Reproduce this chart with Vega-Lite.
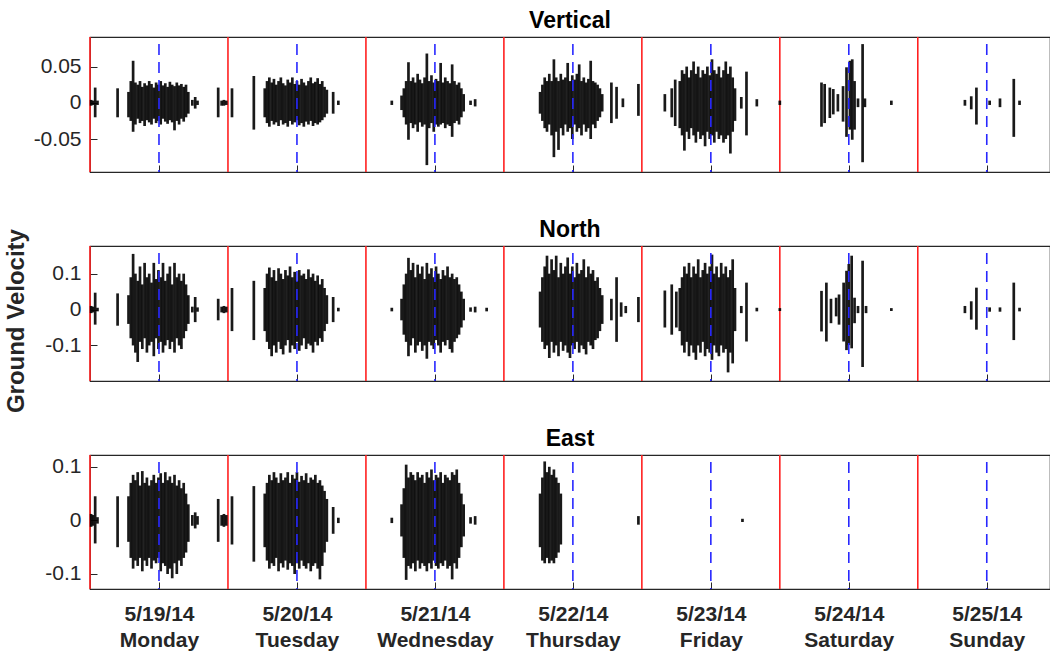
{
"$schema":"https://vega.github.io/schema/vega-lite/v6.json",
"padding":{"left":4,"top":9,"right":0,"bottom":0},
"title":{"text":"Ground Velocity","orient":"left","anchor":"middle","fontSize":24,"fontWeight":"bold","color":"#262626","offset":4,"dx":9},
"config":{"font":"Liberation Sans","view":{"stroke":"#262626","strokeWidth":1.2},
"axis":{"grid":false,"domain":false,"tickColor":"#262626","labelColor":"#262626","labelFontSize":21,"labelFont":"Liberation Sans","titleFont":"Liberation Sans"},
"title":{"fontSize":23,"fontWeight":"bold","color":"#000000","offset":3,"font":"Liberation Sans"},
"concat":{"spacing":44}},
"datasets":{
"days":[{"t":0},{"t":24},{"t":48},{"t":72},{"t":96},{"t":120},{"t":144}],
"noons":[{"t":12},{"t":36},{"t":60},{"t":84},{"t":108},{"t":132},{"t":156}],
"V":[
{"t":0.2,"lo":-0.004,"hi":0.004},{"t":0.5,"lo":-0.003,"hi":0.003},{"t":0.9,"lo":-0.02,"hi":0.021},{"t":1.3,"lo":-0.003,"hi":0.003},{"t":4.8,"lo":-0.02,"hi":0.02},
{"t":6.7,"lo":-0.02,"hi":0.015},{"t":7.1,"lo":-0.025,"hi":0.03},{"t":7.5,"lo":-0.04,"hi":0.058},{"t":7.9,"lo":-0.03,"hi":0.028},{"t":8.3,"lo":-0.022,"hi":0.025},{"t":8.7,"lo":-0.028,"hi":0.03},{"t":9.1,"lo":-0.025,"hi":0.022},{"t":9.5,"lo":-0.032,"hi":0.027},{"t":9.9,"lo":-0.024,"hi":0.024},{"t":10.3,"lo":-0.027,"hi":0.03},{"t":10.7,"lo":-0.03,"hi":0.026},{"t":11.1,"lo":-0.022,"hi":0.021},{"t":11.5,"lo":-0.028,"hi":0.028},{"t":11.9,"lo":-0.025,"hi":0.025},{"t":12.3,"lo":-0.03,"hi":0.03},{"t":12.7,"lo":-0.022,"hi":0.024},{"t":13.1,"lo":-0.026,"hi":0.027},{"t":13.5,"lo":-0.029,"hi":0.022},{"t":13.9,"lo":-0.024,"hi":0.029},{"t":14.3,"lo":-0.027,"hi":0.025},{"t":14.7,"lo":-0.038,"hi":0.023},{"t":15.1,"lo":-0.025,"hi":0.028},{"t":15.5,"lo":-0.03,"hi":0.024},{"t":15.9,"lo":-0.022,"hi":0.026},{"t":16.3,"lo":-0.026,"hi":0.022},{"t":16.7,"lo":-0.02,"hi":0.025},{"t":17.1,"lo":-0.015,"hi":0.015},
{"t":17.8,"lo":-0.004,"hi":0.004},{"t":18.3,"lo":-0.008,"hi":0.008},{"t":18.7,"lo":-0.003,"hi":0.003},{"t":22.3,"lo":-0.02,"hi":0.021},{"t":22.9,"lo":-0.004,"hi":0.003},{"t":23.3,"lo":-0.004,"hi":0.004},{"t":23.7,"lo":-0.003,"hi":0.003},{"t":24.7,"lo":-0.02,"hi":0.02},{"t":28.5,"lo":-0.037,"hi":0.037},
{"t":30.4,"lo":-0.02,"hi":0.02},{"t":30.8,"lo":-0.028,"hi":0.03},{"t":31.2,"lo":-0.033,"hi":0.035},{"t":31.6,"lo":-0.025,"hi":0.028},{"t":32.0,"lo":-0.03,"hi":0.033},{"t":32.4,"lo":-0.027,"hi":0.025},{"t":32.8,"lo":-0.032,"hi":0.03},{"t":33.2,"lo":-0.024,"hi":0.035},{"t":33.6,"lo":-0.03,"hi":0.027},{"t":34.0,"lo":-0.028,"hi":0.024},{"t":34.4,"lo":-0.033,"hi":0.032},{"t":34.8,"lo":-0.025,"hi":0.028},{"t":35.2,"lo":-0.03,"hi":0.035},{"t":35.6,"lo":-0.027,"hi":0.026},{"t":36.0,"lo":-0.024,"hi":0.03},{"t":36.4,"lo":-0.031,"hi":0.025},{"t":36.8,"lo":-0.028,"hi":0.033},{"t":37.2,"lo":-0.033,"hi":0.028},{"t":37.6,"lo":-0.026,"hi":0.024},{"t":38.0,"lo":-0.03,"hi":0.03},{"t":38.4,"lo":-0.025,"hi":0.035},{"t":38.8,"lo":-0.032,"hi":0.027},{"t":39.2,"lo":-0.028,"hi":0.029},{"t":39.6,"lo":-0.03,"hi":0.034},{"t":40.0,"lo":-0.027,"hi":0.026},{"t":40.4,"lo":-0.024,"hi":0.03},{"t":40.8,"lo":-0.02,"hi":0.022},{"t":41.2,"lo":-0.015,"hi":0.018},
{"t":42.3,"lo":-0.015,"hi":0.015},{"t":43.2,"lo":-0.003,"hi":0.003},{"t":52.5,"lo":-0.003,"hi":0.003},
{"t":54.2,"lo":-0.01,"hi":0.01},{"t":54.6,"lo":-0.02,"hi":0.02},{"t":55.0,"lo":-0.03,"hi":0.03},{"t":55.4,"lo":-0.051,"hi":0.056},{"t":55.8,"lo":-0.028,"hi":0.03},{"t":56.2,"lo":-0.035,"hi":0.035},{"t":56.6,"lo":-0.03,"hi":0.028},{"t":57.0,"lo":-0.04,"hi":0.04},{"t":57.4,"lo":-0.027,"hi":0.032},{"t":57.8,"lo":-0.033,"hi":0.027},{"t":58.2,"lo":-0.03,"hi":0.035},{"t":58.6,"lo":-0.086,"hi":0.068},{"t":59.0,"lo":-0.035,"hi":0.03},{"t":59.4,"lo":-0.028,"hi":0.038},{"t":59.8,"lo":-0.04,"hi":0.028},{"t":60.2,"lo":-0.03,"hi":0.033},{"t":60.6,"lo":-0.033,"hi":0.03},{"t":61.0,"lo":-0.03,"hi":0.055},{"t":61.4,"lo":-0.028,"hi":0.028},{"t":61.8,"lo":-0.035,"hi":0.035},{"t":62.2,"lo":-0.03,"hi":0.03},{"t":62.6,"lo":-0.032,"hi":0.027},{"t":63.0,"lo":-0.047,"hi":0.053},{"t":63.4,"lo":-0.028,"hi":0.03},{"t":63.8,"lo":-0.025,"hi":0.025},{"t":64.2,"lo":-0.03,"hi":0.028},{"t":64.6,"lo":-0.02,"hi":0.02},{"t":65.0,"lo":-0.012,"hi":0.012},
{"t":66.2,"lo":-0.003,"hi":0.003},{"t":67.0,"lo":-0.005,"hi":0.005},
{"t":78.3,"lo":-0.015,"hi":0.015},{"t":78.7,"lo":-0.025,"hi":0.025},{"t":79.1,"lo":-0.035,"hi":0.035},{"t":79.5,"lo":-0.04,"hi":0.03},{"t":79.9,"lo":-0.03,"hi":0.04},{"t":80.3,"lo":-0.045,"hi":0.03},{"t":80.7,"lo":-0.075,"hi":0.06},{"t":81.1,"lo":-0.04,"hi":0.035},{"t":81.5,"lo":-0.065,"hi":0.03},{"t":81.9,"lo":-0.035,"hi":0.04},{"t":82.3,"lo":-0.045,"hi":0.032},{"t":82.7,"lo":-0.03,"hi":0.035},{"t":83.1,"lo":-0.04,"hi":0.055},{"t":83.5,"lo":-0.035,"hi":0.03},{"t":83.9,"lo":-0.05,"hi":0.038},{"t":84.3,"lo":-0.03,"hi":0.032},{"t":84.7,"lo":-0.04,"hi":0.04},{"t":85.1,"lo":-0.035,"hi":0.053},{"t":85.5,"lo":-0.045,"hi":0.03},{"t":85.9,"lo":-0.03,"hi":0.035},{"t":86.3,"lo":-0.04,"hi":0.028},{"t":86.7,"lo":-0.035,"hi":0.033},{"t":87.1,"lo":-0.05,"hi":0.058},{"t":87.5,"lo":-0.03,"hi":0.03},{"t":87.9,"lo":-0.035,"hi":0.028},{"t":88.3,"lo":-0.025,"hi":0.025},{"t":88.7,"lo":-0.02,"hi":0.02},{"t":89.1,"lo":-0.012,"hi":0.012},
{"t":90.7,"lo":-0.028,"hi":0.028},{"t":91.6,"lo":-0.022,"hi":0.022},{"t":92.7,"lo":-0.006,"hi":0.006},{"t":95.4,"lo":-0.018,"hi":0.026},
{"t":100.0,"lo":-0.012,"hi":0.012},{"t":101.2,"lo":-0.02,"hi":0.02},{"t":101.8,"lo":-0.032,"hi":0.032},
{"t":102.6,"lo":-0.035,"hi":0.03},{"t":103.0,"lo":-0.045,"hi":0.045},{"t":103.4,"lo":-0.066,"hi":0.04},{"t":103.8,"lo":-0.04,"hi":0.05},{"t":104.2,"lo":-0.05,"hi":0.035},{"t":104.6,"lo":-0.035,"hi":0.045},{"t":105.0,"lo":-0.045,"hi":0.057},{"t":105.4,"lo":-0.055,"hi":0.04},{"t":105.8,"lo":-0.04,"hi":0.05},{"t":106.2,"lo":-0.05,"hi":0.035},{"t":106.6,"lo":-0.045,"hi":0.045},{"t":107.0,"lo":-0.06,"hi":0.04},{"t":107.4,"lo":-0.04,"hi":0.05},{"t":107.8,"lo":-0.05,"hi":0.038},{"t":108.2,"lo":-0.045,"hi":0.06},{"t":108.6,"lo":-0.055,"hi":0.045},{"t":109.0,"lo":-0.04,"hi":0.04},{"t":109.4,"lo":-0.05,"hi":0.05},{"t":109.8,"lo":-0.045,"hi":0.035},{"t":110.2,"lo":-0.055,"hi":0.045},{"t":110.6,"lo":-0.05,"hi":0.057},{"t":111.0,"lo":-0.045,"hi":0.04},{"t":111.4,"lo":-0.07,"hi":0.05},{"t":111.8,"lo":-0.04,"hi":0.035},{"t":112.2,"lo":-0.025,"hi":0.02},
{"t":113.3,"lo":-0.008,"hi":0.008},{"t":114.2,"lo":-0.045,"hi":0.043},{"t":116.0,"lo":-0.005,"hi":0.005},{"t":120.0,"lo":-0.003,"hi":0.003},
{"t":127.25,"lo":-0.033,"hi":0.028},{"t":127.8,"lo":-0.028,"hi":0.026},{"t":128.7,"lo":-0.021,"hi":0.021},{"t":129.3,"lo":-0.016,"hi":0.019},{"t":130.1,"lo":-0.012,"hi":0.012},{"t":131.0,"lo":-0.026,"hi":0.023},{"t":131.6,"lo":-0.047,"hi":0.049},{"t":132.2,"lo":-0.037,"hi":0.058},{"t":132.6,"lo":-0.051,"hi":0.06},{"t":133.0,"lo":-0.037,"hi":0.03},{"t":133.6,"lo":-0.006,"hi":0.006},{"t":134.4,"lo":-0.082,"hi":0.081},{"t":134.8,"lo":-0.006,"hi":0.006},{"t":139.4,"lo":-0.003,"hi":0.003},
{"t":152.2,"lo":-0.004,"hi":0.004},{"t":153.3,"lo":-0.009,"hi":0.009},{"t":154.2,"lo":-0.03,"hi":0.021},{"t":156.5,"lo":-0.003,"hi":0.003},{"t":158.3,"lo":-0.006,"hi":0.006},{"t":160.7,"lo":-0.047,"hi":0.033},{"t":161.7,"lo":-0.003,"hi":0.003}
],
"N":[
{"t":0.2,"lo":-0.01,"hi":0.01},{"t":0.5,"lo":-0.008,"hi":0.008},{"t":0.9,"lo":-0.042,"hi":0.047},{"t":1.3,"lo":-0.005,"hi":0.005},{"t":4.8,"lo":-0.045,"hi":0.045},
{"t":6.7,"lo":-0.04,"hi":0.04},{"t":7.1,"lo":-0.08,"hi":0.09},{"t":7.5,"lo":-0.1,"hi":0.155},{"t":7.9,"lo":-0.12,"hi":0.1},{"t":8.3,"lo":-0.146,"hi":0.08},{"t":8.7,"lo":-0.09,"hi":0.12},{"t":9.1,"lo":-0.11,"hi":0.07},{"t":9.5,"lo":-0.08,"hi":0.13},{"t":9.9,"lo":-0.12,"hi":0.09},{"t":10.3,"lo":-0.1,"hi":0.1},{"t":10.7,"lo":-0.09,"hi":0.075},{"t":11.1,"lo":-0.13,"hi":0.13},{"t":11.5,"lo":-0.08,"hi":0.085},{"t":11.9,"lo":-0.11,"hi":0.11},{"t":12.3,"lo":-0.09,"hi":0.09},{"t":12.7,"lo":-0.12,"hi":0.13},{"t":13.1,"lo":-0.1,"hi":0.08},{"t":13.5,"lo":-0.085,"hi":0.1},{"t":13.9,"lo":-0.11,"hi":0.12},{"t":14.3,"lo":-0.09,"hi":0.07},{"t":14.7,"lo":-0.12,"hi":0.13},{"t":15.1,"lo":-0.08,"hi":0.09},{"t":15.5,"lo":-0.1,"hi":0.1},{"t":15.9,"lo":-0.11,"hi":0.08},{"t":16.3,"lo":-0.08,"hi":0.1},{"t":16.7,"lo":-0.06,"hi":0.07},{"t":17.1,"lo":-0.04,"hi":0.04},
{"t":17.8,"lo":-0.008,"hi":0.008},{"t":18.3,"lo":-0.035,"hi":0.035},{"t":18.7,"lo":-0.006,"hi":0.006},{"t":22.3,"lo":-0.03,"hi":0.03},{"t":22.9,"lo":-0.008,"hi":0.008},{"t":23.3,"lo":-0.01,"hi":0.01},{"t":23.7,"lo":-0.008,"hi":0.008},{"t":24.7,"lo":-0.06,"hi":0.06},{"t":28.5,"lo":-0.085,"hi":0.08},
{"t":30.4,"lo":-0.06,"hi":0.06},{"t":30.8,"lo":-0.09,"hi":0.1},{"t":31.2,"lo":-0.11,"hi":0.117},{"t":31.6,"lo":-0.13,"hi":0.09},{"t":32.0,"lo":-0.1,"hi":0.11},{"t":32.4,"lo":-0.12,"hi":0.08},{"t":32.8,"lo":-0.09,"hi":0.115},{"t":33.2,"lo":-0.11,"hi":0.1},{"t":33.6,"lo":-0.125,"hi":0.085},{"t":34.0,"lo":-0.1,"hi":0.11},{"t":34.4,"lo":-0.085,"hi":0.095},{"t":34.8,"lo":-0.12,"hi":0.12},{"t":35.2,"lo":-0.1,"hi":0.09},{"t":35.6,"lo":-0.11,"hi":0.105},{"t":36.0,"lo":-0.09,"hi":0.08},{"t":36.4,"lo":-0.115,"hi":0.11},{"t":36.8,"lo":-0.1,"hi":0.095},{"t":37.2,"lo":-0.08,"hi":0.1},{"t":37.6,"lo":-0.11,"hi":0.085},{"t":38.0,"lo":-0.095,"hi":0.112},{"t":38.4,"lo":-0.1,"hi":0.09},{"t":38.8,"lo":-0.12,"hi":0.1},{"t":39.2,"lo":-0.09,"hi":0.08},{"t":39.6,"lo":-0.1,"hi":0.095},{"t":40.0,"lo":-0.08,"hi":0.07},{"t":40.4,"lo":-0.09,"hi":0.085},{"t":40.8,"lo":-0.06,"hi":0.06},{"t":41.2,"lo":-0.04,"hi":0.04},
{"t":42.3,"lo":-0.035,"hi":0.035},{"t":43.2,"lo":-0.005,"hi":0.005},{"t":52.5,"lo":-0.005,"hi":0.005},
{"t":54.2,"lo":-0.03,"hi":0.03},{"t":54.6,"lo":-0.07,"hi":0.07},{"t":55.0,"lo":-0.09,"hi":0.1},{"t":55.4,"lo":-0.13,"hi":0.144},{"t":55.8,"lo":-0.1,"hi":0.11},{"t":56.2,"lo":-0.08,"hi":0.13},{"t":56.6,"lo":-0.12,"hi":0.09},{"t":57.0,"lo":-0.1,"hi":0.125},{"t":57.4,"lo":-0.09,"hi":0.1},{"t":57.8,"lo":-0.115,"hi":0.12},{"t":58.2,"lo":-0.1,"hi":0.085},{"t":58.6,"lo":-0.137,"hi":0.13},{"t":59.0,"lo":-0.09,"hi":0.1},{"t":59.4,"lo":-0.1,"hi":0.115},{"t":59.8,"lo":-0.11,"hi":0.09},{"t":60.2,"lo":-0.085,"hi":0.12},{"t":60.6,"lo":-0.1,"hi":0.1},{"t":61.0,"lo":-0.12,"hi":0.085},{"t":61.4,"lo":-0.09,"hi":0.11},{"t":61.8,"lo":-0.1,"hi":0.095},{"t":62.2,"lo":-0.085,"hi":0.12},{"t":62.6,"lo":-0.11,"hi":0.09},{"t":63.0,"lo":-0.12,"hi":0.1},{"t":63.4,"lo":-0.09,"hi":0.085},{"t":63.8,"lo":-0.08,"hi":0.09},{"t":64.2,"lo":-0.07,"hi":0.07},{"t":64.6,"lo":-0.05,"hi":0.05},{"t":65.0,"lo":-0.03,"hi":0.03},
{"t":66.2,"lo":-0.006,"hi":0.006},{"t":67.0,"lo":-0.008,"hi":0.008},{"t":69.0,"lo":-0.005,"hi":0.005},
{"t":78.3,"lo":-0.05,"hi":0.05},{"t":78.7,"lo":-0.09,"hi":0.09},{"t":79.1,"lo":-0.11,"hi":0.12},{"t":79.5,"lo":-0.1,"hi":0.15},{"t":79.9,"lo":-0.135,"hi":0.1},{"t":80.3,"lo":-0.09,"hi":0.14},{"t":80.7,"lo":-0.12,"hi":0.11},{"t":81.1,"lo":-0.1,"hi":0.15},{"t":81.5,"lo":-0.13,"hi":0.09},{"t":81.9,"lo":-0.09,"hi":0.13},{"t":82.3,"lo":-0.115,"hi":0.1},{"t":82.7,"lo":-0.1,"hi":0.12},{"t":83.1,"lo":-0.12,"hi":0.145},{"t":83.5,"lo":-0.135,"hi":0.1},{"t":83.9,"lo":-0.1,"hi":0.12},{"t":84.3,"lo":-0.11,"hi":0.09},{"t":84.7,"lo":-0.09,"hi":0.13},{"t":85.1,"lo":-0.12,"hi":0.1},{"t":85.5,"lo":-0.1,"hi":0.11},{"t":85.9,"lo":-0.11,"hi":0.14},{"t":86.3,"lo":-0.125,"hi":0.09},{"t":86.7,"lo":-0.09,"hi":0.12},{"t":87.1,"lo":-0.1,"hi":0.1},{"t":87.5,"lo":-0.11,"hi":0.11},{"t":87.9,"lo":-0.085,"hi":0.08},{"t":88.3,"lo":-0.08,"hi":0.09},{"t":88.7,"lo":-0.06,"hi":0.06},{"t":89.1,"lo":-0.04,"hi":0.04},
{"t":90.7,"lo":-0.03,"hi":0.03},{"t":91.6,"lo":-0.09,"hi":0.09},{"t":92.4,"lo":-0.02,"hi":0.02},{"t":93.2,"lo":-0.01,"hi":0.01},{"t":95.4,"lo":-0.035,"hi":0.035},
{"t":100.0,"lo":-0.05,"hi":0.053},{"t":101.2,"lo":-0.07,"hi":0.07},{"t":102.0,"lo":-0.05,"hi":0.05},
{"t":102.6,"lo":-0.06,"hi":0.06},{"t":103.0,"lo":-0.1,"hi":0.09},{"t":103.4,"lo":-0.12,"hi":0.12},{"t":103.8,"lo":-0.09,"hi":0.1},{"t":104.2,"lo":-0.13,"hi":0.13},{"t":104.6,"lo":-0.1,"hi":0.09},{"t":105.0,"lo":-0.12,"hi":0.12},{"t":105.4,"lo":-0.14,"hi":0.1},{"t":105.8,"lo":-0.1,"hi":0.14},{"t":106.2,"lo":-0.12,"hi":0.09},{"t":106.6,"lo":-0.09,"hi":0.11},{"t":107.0,"lo":-0.13,"hi":0.13},{"t":107.4,"lo":-0.11,"hi":0.1},{"t":107.8,"lo":-0.12,"hi":0.12},{"t":108.2,"lo":-0.14,"hi":0.153},{"t":108.6,"lo":-0.1,"hi":0.1},{"t":109.0,"lo":-0.12,"hi":0.12},{"t":109.4,"lo":-0.13,"hi":0.09},{"t":109.8,"lo":-0.1,"hi":0.13},{"t":110.2,"lo":-0.12,"hi":0.1},{"t":110.6,"lo":-0.11,"hi":0.12},{"t":111.0,"lo":-0.175,"hi":0.09},{"t":111.4,"lo":-0.12,"hi":0.11},{"t":111.8,"lo":-0.15,"hi":0.14},{"t":112.2,"lo":-0.06,"hi":0.06},
{"t":113.3,"lo":-0.01,"hi":0.01},{"t":114.2,"lo":-0.089,"hi":0.075},{"t":116.0,"lo":-0.005,"hi":0.005},{"t":120.0,"lo":-0.004,"hi":0.004},
{"t":127.25,"lo":-0.061,"hi":0.052},{"t":128.1,"lo":-0.089,"hi":0.075},{"t":128.9,"lo":-0.038,"hi":0.03},{"t":129.8,"lo":-0.019,"hi":0.033},{"t":130.3,"lo":-0.042,"hi":0.042},{"t":131.1,"lo":-0.089,"hi":0.075},{"t":131.6,"lo":-0.113,"hi":0.108},{"t":132.0,"lo":-0.099,"hi":0.127},{"t":132.5,"lo":-0.108,"hi":0.15},{"t":133.0,"lo":-0.038,"hi":0.033},{"t":133.6,"lo":-0.01,"hi":0.01},{"t":134.4,"lo":-0.16,"hi":0.136},{"t":135.0,"lo":-0.01,"hi":0.01},{"t":139.4,"lo":-0.004,"hi":0.004},
{"t":152.2,"lo":-0.01,"hi":0.01},{"t":153.3,"lo":-0.028,"hi":0.023},{"t":154.2,"lo":-0.056,"hi":0.061},{"t":156.5,"lo":-0.006,"hi":0.006},{"t":158.3,"lo":-0.006,"hi":0.006},{"t":160.7,"lo":-0.085,"hi":0.075},{"t":161.7,"lo":-0.005,"hi":0.005}
],
"E":[
{"t":0.2,"lo":-0.012,"hi":0.012},{"t":0.5,"lo":-0.01,"hi":0.01},{"t":0.9,"lo":-0.043,"hi":0.045},{"t":1.3,"lo":-0.006,"hi":0.006},{"t":4.8,"lo":-0.05,"hi":0.045},
{"t":6.7,"lo":-0.04,"hi":0.045},{"t":7.1,"lo":-0.07,"hi":0.07},{"t":7.5,"lo":-0.09,"hi":0.085},{"t":7.9,"lo":-0.075,"hi":0.075},{"t":8.3,"lo":-0.085,"hi":0.09},{"t":8.7,"lo":-0.07,"hi":0.065},{"t":9.1,"lo":-0.095,"hi":0.092},{"t":9.5,"lo":-0.075,"hi":0.07},{"t":9.9,"lo":-0.085,"hi":0.08},{"t":10.3,"lo":-0.07,"hi":0.065},{"t":10.7,"lo":-0.09,"hi":0.075},{"t":11.1,"lo":-0.075,"hi":0.085},{"t":11.5,"lo":-0.08,"hi":0.07},{"t":11.9,"lo":-0.07,"hi":0.08},{"t":12.3,"lo":-0.095,"hi":0.088},{"t":12.7,"lo":-0.08,"hi":0.07},{"t":13.1,"lo":-0.085,"hi":0.09},{"t":13.5,"lo":-0.1,"hi":0.075},{"t":13.9,"lo":-0.09,"hi":0.082},{"t":14.3,"lo":-0.108,"hi":0.07},{"t":14.7,"lo":-0.08,"hi":0.085},{"t":15.1,"lo":-0.1,"hi":0.065},{"t":15.5,"lo":-0.075,"hi":0.075},{"t":15.9,"lo":-0.085,"hi":0.06},{"t":16.3,"lo":-0.07,"hi":0.07},{"t":16.7,"lo":-0.06,"hi":0.05},{"t":17.1,"lo":-0.04,"hi":0.03},
{"t":17.8,"lo":-0.01,"hi":0.01},{"t":18.3,"lo":-0.015,"hi":0.015},{"t":18.7,"lo":-0.008,"hi":0.008},{"t":22.3,"lo":-0.04,"hi":0.04},{"t":22.9,"lo":-0.01,"hi":0.01},{"t":23.3,"lo":-0.012,"hi":0.012},{"t":23.7,"lo":-0.01,"hi":0.01},{"t":24.7,"lo":-0.045,"hi":0.045},{"t":28.5,"lo":-0.077,"hi":0.064},
{"t":30.4,"lo":-0.05,"hi":0.05},{"t":30.8,"lo":-0.075,"hi":0.07},{"t":31.2,"lo":-0.09,"hi":0.085},{"t":31.6,"lo":-0.08,"hi":0.075},{"t":32.0,"lo":-0.085,"hi":0.09},{"t":32.4,"lo":-0.07,"hi":0.08},{"t":32.8,"lo":-0.095,"hi":0.07},{"t":33.2,"lo":-0.08,"hi":0.088},{"t":33.6,"lo":-0.088,"hi":0.075},{"t":34.0,"lo":-0.075,"hi":0.08},{"t":34.4,"lo":-0.092,"hi":0.09},{"t":34.8,"lo":-0.08,"hi":0.07},{"t":35.2,"lo":-0.085,"hi":0.085},{"t":35.6,"lo":-0.1,"hi":0.078},{"t":36.0,"lo":-0.08,"hi":0.09},{"t":36.4,"lo":-0.09,"hi":0.072},{"t":36.8,"lo":-0.075,"hi":0.083},{"t":37.2,"lo":-0.085,"hi":0.075},{"t":37.6,"lo":-0.09,"hi":0.088},{"t":38.0,"lo":-0.08,"hi":0.07},{"t":38.4,"lo":-0.095,"hi":0.08},{"t":38.8,"lo":-0.085,"hi":0.076},{"t":39.2,"lo":-0.08,"hi":0.085},{"t":39.6,"lo":-0.09,"hi":0.07},{"t":40.0,"lo":-0.11,"hi":0.075},{"t":40.4,"lo":-0.085,"hi":0.065},{"t":40.8,"lo":-0.06,"hi":0.055},{"t":41.2,"lo":-0.04,"hi":0.04},
{"t":42.3,"lo":-0.025,"hi":0.025},{"t":43.2,"lo":-0.005,"hi":0.005},{"t":52.5,"lo":-0.005,"hi":0.005},
{"t":54.2,"lo":-0.03,"hi":0.03},{"t":54.6,"lo":-0.07,"hi":0.06},{"t":55.0,"lo":-0.111,"hi":0.104},{"t":55.4,"lo":-0.085,"hi":0.08},{"t":55.8,"lo":-0.09,"hi":0.09},{"t":56.2,"lo":-0.08,"hi":0.085},{"t":56.6,"lo":-0.095,"hi":0.075},{"t":57.0,"lo":-0.075,"hi":0.09},{"t":57.4,"lo":-0.09,"hi":0.08},{"t":57.8,"lo":-0.08,"hi":0.085},{"t":58.2,"lo":-0.085,"hi":0.07},{"t":58.6,"lo":-0.095,"hi":0.09},{"t":59.0,"lo":-0.08,"hi":0.08},{"t":59.4,"lo":-0.09,"hi":0.095},{"t":59.8,"lo":-0.075,"hi":0.075},{"t":60.2,"lo":-0.085,"hi":0.085},{"t":60.6,"lo":-0.09,"hi":0.08},{"t":61.0,"lo":-0.08,"hi":0.09},{"t":61.4,"lo":-0.085,"hi":0.07},{"t":61.8,"lo":-0.075,"hi":0.085},{"t":62.2,"lo":-0.09,"hi":0.08},{"t":62.6,"lo":-0.085,"hi":0.075},{"t":63.0,"lo":-0.11,"hi":0.09},{"t":63.4,"lo":-0.08,"hi":0.085},{"t":63.8,"lo":-0.09,"hi":0.095},{"t":64.2,"lo":-0.07,"hi":0.07},{"t":64.6,"lo":-0.05,"hi":0.05},{"t":65.0,"lo":-0.03,"hi":0.03},
{"t":66.2,"lo":-0.006,"hi":0.006},{"t":67.0,"lo":-0.008,"hi":0.008},
{"t":78.3,"lo":-0.05,"hi":0.05},{"t":78.7,"lo":-0.075,"hi":0.08},{"t":79.1,"lo":-0.08,"hi":0.11},{"t":79.5,"lo":-0.07,"hi":0.09},{"t":79.9,"lo":-0.08,"hi":0.1},{"t":80.3,"lo":-0.075,"hi":0.085},{"t":80.7,"lo":-0.08,"hi":0.095},{"t":81.1,"lo":-0.07,"hi":0.08},{"t":81.5,"lo":-0.06,"hi":0.07},{"t":81.9,"lo":-0.045,"hi":0.05},
{"t":95.4,"lo":-0.008,"hi":0.008},{"t":113.5,"lo":-0.003,"hi":0.003}
]},
"vconcat":[
{"width":960,"height":135,"title":"Vertical",
"layer":[
{"data":{"name":"days"},"mark":{"type":"rule","color":"#ff2020","strokeWidth":1.6},"encoding":{"x":{"field":"t","type":"quantitative","scale":{"domain":[0,167],"nice":false},"axis":{"values":[12,36,60,84,108,132,156],"labels":false,"tickSize":-7,"title":null}}}},
{"mark":{"type":"rule","color":"#222222","strokeWidth":1.4},"encoding":{"y":{"datum":0}}},
{"data":{"name":"V"},"mark":{"type":"rule","color":"#000000","strokeWidth":2.7,"opacity":0.9},"encoding":{"x":{"field":"t","type":"quantitative"},"y":{"field":"lo","type":"quantitative","scale":{"domain":[-0.0955,0.0908],"nice":false},"axis":{"values":[-0.05,0,0.05],"labelExpr":"''+datum.value","tickSize":-7,"labelPadding":16,"title":null}},"y2":{"field":"hi"}}},
{"data":{"name":"noons"},"mark":{"type":"rule","color":"#2828ff","strokeWidth":1.6,"strokeDash":[11,7],"strokeDashOffset":11},"encoding":{"x":{"field":"t","type":"quantitative"}}}
]},
{"width":960,"height":135,"title":"North",
"layer":[
{"data":{"name":"days"},"mark":{"type":"rule","color":"#ff2020","strokeWidth":1.6},"encoding":{"x":{"field":"t","type":"quantitative","scale":{"domain":[0,167],"nice":false},"axis":{"values":[12,36,60,84,108,132,156],"labels":false,"tickSize":-7,"title":null}}}},
{"mark":{"type":"rule","color":"#222222","strokeWidth":1.4},"encoding":{"y":{"datum":0}}},
{"data":{"name":"N"},"mark":{"type":"rule","color":"#000000","strokeWidth":2.7,"opacity":0.9},"encoding":{"x":{"field":"t","type":"quantitative"},"y":{"field":"lo","type":"quantitative","scale":{"domain":[-0.199,0.177],"nice":false},"axis":{"values":[-0.1,0,0.1],"labelExpr":"''+datum.value","tickSize":-7,"labelPadding":16,"title":null}},"y2":{"field":"hi"}}},
{"data":{"name":"noons"},"mark":{"type":"rule","color":"#2828ff","strokeWidth":1.6,"strokeDash":[11,7],"strokeDashOffset":11},"encoding":{"x":{"field":"t","type":"quantitative"}}}
]},
{"width":960,"height":134,"title":"East",
"layer":[
{"data":{"name":"days"},"mark":{"type":"rule","color":"#ff2020","strokeWidth":1.6},"encoding":{"x":{"field":"t","type":"quantitative","scale":{"domain":[0,167],"nice":false},"axis":{"values":[12,36,60,84,108,132,156],"labelExpr":"[['5/19/14','Monday'],['5/20/14','Tuesday'],['5/21/14','Wednesday'],['5/22/14','Thursday'],['5/23/14','Friday'],['5/24/14','Saturday'],['5/25/14','Sunday']][floor(datum.value/24)]","labelFontSize":21,"labelFontWeight":"bold","labelLineHeight":26,"labelPadding":21,"tickSize":-7,"title":null}}}},
{"mark":{"type":"rule","color":"#222222","strokeWidth":1.4},"encoding":{"y":{"datum":0}}},
{"data":{"name":"E"},"mark":{"type":"rule","color":"#000000","strokeWidth":2.7,"opacity":0.9},"encoding":{"x":{"field":"t","type":"quantitative"},"y":{"field":"lo","type":"quantitative","scale":{"domain":[-0.128,0.122],"nice":false},"axis":{"values":[-0.1,0,0.1],"labelExpr":"''+datum.value","tickSize":-7,"labelPadding":16,"title":null}},"y2":{"field":"hi"}}},
{"data":{"name":"noons"},"mark":{"type":"rule","color":"#2828ff","strokeWidth":1.6,"strokeDash":[11,7],"strokeDashOffset":11},"encoding":{"x":{"field":"t","type":"quantitative"}}}
]}
]
}
